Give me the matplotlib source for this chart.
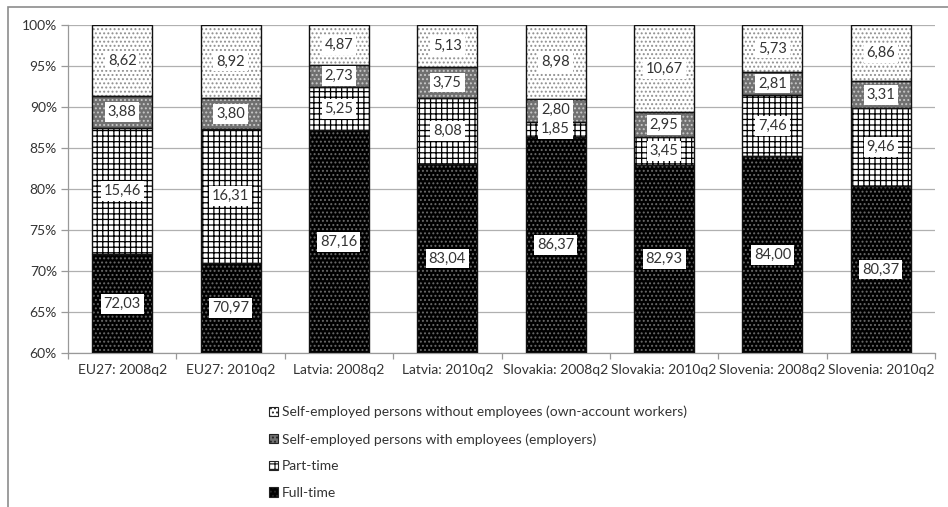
import numpy as np
import matplotlib.pyplot as plt
from matplotlib.patches import Rectangle, Patch

plt.rcParams['font.family'] = ['Lato', 'DejaVu Sans']
plt.rcParams['hatch.linewidth'] = 0.9

# employment structure, % of total employment
groups = ['EU27: 2008q2', 'EU27: 2010q2', 'Latvia: 2008q2', 'Latvia: 2010q2',
          'Slovakia: 2008q2', 'Slovakia: 2010q2', 'Slovenia: 2008q2', 'Slovenia: 2010q2']
full_time = [72.03, 70.97, 87.16, 83.04, 86.37, 82.93, 84.00, 80.37]
part_time = [15.46, 16.31, 5.25, 8.08, 1.85, 3.45, 7.46, 9.46]
employers = [3.88, 3.80, 2.73, 3.75, 2.80, 2.95, 2.81, 3.31]
own_account = [8.62, 8.92, 4.87, 5.13, 8.98, 10.67, 5.73, 6.86]

series = [
    ('Full-time', full_time, 'black', '#6a6a6a', '....'),
    ('Part-time', part_time, 'white', 'black', '+++'),
    ('Self-employed persons with employees (employers)', employers, '#707070', '#c8c8c8', '....'),
    ('Self-employed persons without employees (own-account workers)', own_account, 'white', '#909090', '....'),
]

fig = plt.figure(figsize=(9.48, 5.07), dpi=100)
ax = fig.add_axes([68/948, 1-353/507, (935-68)/948, (353-25)/507])

x = np.arange(len(groups))
width = 0.553
ymin, ymax = 60, 100
bottom = np.zeros(len(groups))
handles = []
for name, vals, face, hcol, hatch in series:
    vals = np.array(vals)
    ax.bar(x, vals, width, bottom=bottom, color=face, edgecolor=hcol,
           hatch=hatch, linewidth=0, zorder=2)
    ax.bar(x, vals, width, bottom=bottom, fill=False, edgecolor='#111111',
           linewidth=1.0, zorder=3)
    for xi, b, v in zip(x, bottom, vals):
        lo = max(b, ymin)
        hi = min(b + v, ymax)
        ax.text(xi, (lo + hi) / 2, f'{v:.2f}'.replace('.', ','), ha='center', va='center',
                fontsize=10.5, color='#333333', zorder=4,
                bbox=dict(boxstyle='square,pad=0.2', fc='white', ec='none'))
    handles.append(Patch(facecolor=face, edgecolor='#222222', hatch=hatch, linewidth=0.8))
    bottom = bottom + vals

ax.set_ylim(ymin, ymax)
ax.set_xlim(-0.5, len(groups) - 0.5)
ax.set_yticks(np.arange(60, 101, 5))
ax.set_yticklabels([f'{t}%' for t in range(60, 101, 5)])
ax.grid(axis='y', color='#b0b0b0', linewidth=0.9, zorder=0)
ax.set_axisbelow(True)

ax.set_xticks(x)
ax.set_xticklabels(groups)
ax.set_xticks(np.arange(-0.5, len(groups)), minor=True)
ax.tick_params(axis='x', which='major', length=0, pad=8, labelsize=10, labelcolor='#333333')
ax.tick_params(axis='x', which='minor', length=4, color='#999999', width=0.9)
ax.tick_params(axis='y', length=5, color='#999999', width=0.9, labelsize=10,
               labelcolor='#333333', pad=3)
for s in ['top', 'right']:
    ax.spines[s].set_visible(False)
for s in ['left', 'bottom']:
    ax.spines[s].set_color('#999999')
    ax.spines[s].set_linewidth(0.9)

# legend: reversed stacking order, one item per row
fig.legend(handles[::-1], [s[0] for s in series][::-1], loc='upper left',
           bbox_to_anchor=(262/948, 1-399/507), frameon=False, fontsize=10,
           handlelength=0.65, handleheight=0.65, handletextpad=0.3,
           labelspacing=1.05, borderpad=0, labelcolor='#333333')

# outer chart border
fig.patches.append(Rectangle((8/948, -0.1), 1.0, 1.1 - 7/507, transform=fig.transFigure,
                             fill=False, edgecolor='#8c8c8c', linewidth=1.2))

fig.savefig('out.png', dpi=100)
